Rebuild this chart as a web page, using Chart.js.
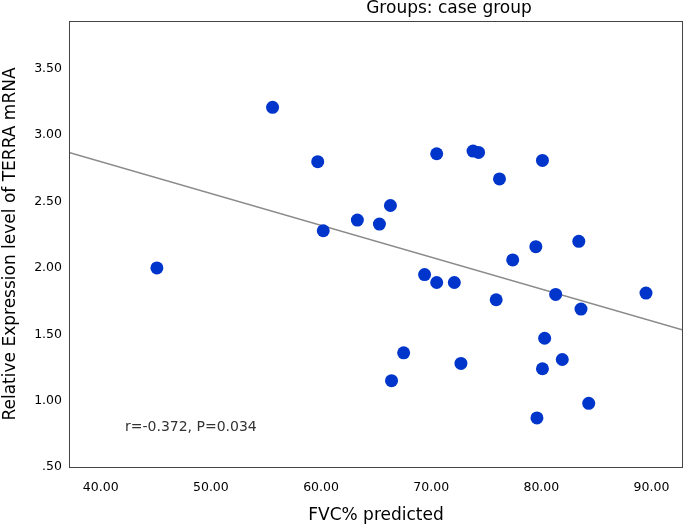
<!DOCTYPE html>
<html>
<head>
<meta charset="utf-8">
<script src="https://cdn.jsdelivr.net/npm/chart.js@4.4.1/dist/chart.umd.min.js"></script>
<style>
  html, body { margin: 0; padding: 0; background: #fff; }
  #wrap { width: 685px; height: 527px; }
</style>
</head>
<body>
<div id="wrap"><canvas id="scatterChart" width="685" height="527"></canvas></div>
<script>
// FVC% predicted vs relative TERRA mRNA expression (case group)
const fvcPredicted = [45.1, 55.6, 59.7, 60.2, 63.3, 65.3, 66.3, 66.4, 67.5, 69.4,
                      70.5, 70.5, 72.1, 72.7, 73.8, 74.3, 75.9, 76.2, 77.4, 79.5,
                      79.6, 80.1, 80.1, 80.3, 81.3, 81.9, 83.4, 83.6, 84.3, 89.5];
const terraExpression = [2.00, 3.21, 2.80, 2.28, 2.36, 2.33, 2.47, 1.15, 1.36, 1.95,
                         1.89, 2.86, 1.89, 1.28, 2.88, 2.87, 1.76, 2.67, 2.06, 2.16,
                         0.87, 1.24, 2.81, 1.47, 1.80, 1.31, 2.20, 1.69, 0.98, 1.81];
// fit line end points
const fitX = [37.12, 92.86];
const fitY = [2.870, 1.532];
const xTicks = [40, 50, 60, 70, 80, 90];
const yTicks = [0.5, 1.0, 1.5, 2.0, 2.5, 3.0, 3.5];
const chartTitle = "Groups: case group";
const statText = "r=-0.372, P=0.034";

const FONT = "'DejaVu Sans', sans-serif";

document.addEventListener("DOMContentLoaded", function () {
    const ctx = document.getElementById("scatterChart").getContext("2d");

    const points = fvcPredicted.map((x, i) => ({ x: x, y: terraExpression[i] }));
    const fitPoints = fitX.map((x, i) => ({ x: x, y: fitY[i] }));

    // khung + tiêu đề + chú thích r, P
    const extras = {
        id: "extras",
        afterDraw(chart) {
            const c = chart.ctx;
            const a = chart.chartArea;
            c.save();
            c.strokeStyle = "#444";
            c.lineWidth = 1;
            c.strokeRect(a.left + 0.5, a.top + 0.5, a.right - a.left - 1, a.bottom - a.top);
            c.fillStyle = "#000";
            c.font = "17px " + FONT;
            c.textAlign = "center";
            c.textBaseline = "middle";
            c.fillText(chartTitle, 449, 9);
            c.fillStyle = "#333";
            c.font = "14px " + FONT;
            c.textAlign = "left";
            c.fillText(statText, 125, 427);
            c.restore();
        }
    };

    const setTicks = list => function (scale) {
        scale.ticks = list.map(v => ({ value: v }));
    };

    new Chart(ctx, {
        type: "scatter",
        data: {
            datasets: [{
                label: "TERRA",
                data: points,
                backgroundColor: "#0035cc",
                borderWidth: 0,
                pointRadius: 6.5,
                pointHoverRadius: 6.5,
                order: 1
            }, {
                type: "line",
                label: "fit",
                data: fitPoints,
                borderColor: "#8a8a8a",
                borderWidth: 1.4,
                pointRadius: 0,
                fill: false,
                order: 2
            }]
        },
        options: {
            responsive: false,
            animation: false,
            events: [],
            layout: { autoPadding: false, padding: { top: 21, right: 2, left: 0, bottom: 0 } },
            plugins: {
                legend: { display: false },
                title: { display: false },
                tooltip: { enabled: false }
            },
            scales: {
                x: {
                    type: "linear",
                    min: 37.12,
                    max: 92.86,
                    afterBuildTicks: setTicks(xTicks),
                    afterFit(scale) { scale.height = 60; },
                    grid: { display: false, drawTicks: false },
                    border: { display: false },
                    ticks: {
                        padding: 13,
                        color: "#000",
                        font: { family: FONT, size: 12.5 },
                        maxRotation: 0,
                        autoSkip: false,
                        callback: v => v.toFixed(2)
                    },
                    title: {
                        display: true,
                        text: "FVC% predicted",
                        color: "#000",
                        font: { family: FONT, size: 17 },
                        padding: { top: 0, bottom: 1 }
                    }
                },
                y: {
                    type: "linear",
                    min: 0.5,
                    max: 3.86,
                    afterBuildTicks: setTicks(yTicks),
                    afterFit(scale) { scale.width = 69; },
                    grid: { display: false, drawTicks: false },
                    border: { display: false },
                    ticks: {
                        padding: 7,
                        color: "#000",
                        font: { family: FONT, size: 12.5 },
                        autoSkip: false,
                        callback: v => v.toFixed(2).replace(/^0\./, ".")
                    },
                    title: {
                        display: true,
                        text: "Relative Expression level of TERRA mRNA",
                        color: "#000",
                        font: { family: FONT, size: 17 },
                        padding: { top: 0, bottom: 0 }
                    }
                }
            }
        },
        plugins: [extras]
    });
});
</script>
</body>
</html>
